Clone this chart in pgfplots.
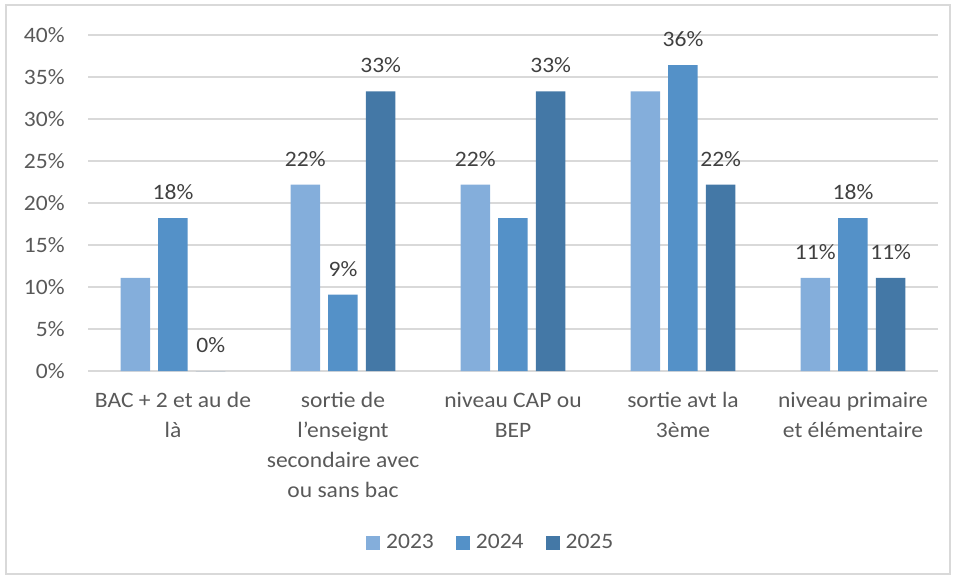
\documentclass[border=0pt]{standalone}
\usepackage{pgfplots}
\pgfplotsset{compat=1.18}
\usepackage{fontspec}
\setmainfont{Carlito}[FakeStretch=1.07]
\definecolor{c23}{RGB}{132,174,219}
\definecolor{c24}{RGB}{84,145,200}
\definecolor{c25}{RGB}{68,120,166}
\definecolor{txt}{RGB}{89,89,89}
\definecolor{lbl}{RGB}{64,64,64}
\definecolor{grd}{RGB}{217,217,217}

\begin{document}
\begin{tikzpicture}
\useasboundingbox (0,0) rectangle (477.5pt,289.5pt);
\draw[grd, line width=0.6pt] (3pt,2.5pt) rectangle (475pt,287pt);
\begin{axis}[
  at={(44pt,104pt)}, anchor=south west,
  scale only axis, width=425pt, height=168pt,
  ybar=4.1pt, bar width=14.75pt,
  xmin=-0.5, xmax=4.5, ymin=0, ymax=40,
  xtick={0,1,2,3,4},
  xticklabels={{BAC + 2 et au de\\là},{sortie de\\l’enseignt\\secondaire avec\\ou sans bac},{niveau CAP ou\\BEP},{sortie avt la\\3ème},{niveau primaire\\et élémentaire}},
  ytick={0,5,...,40},
  yticklabel={\pgfmathprintnumber{\tick}\%},
  /pgf/number format/assume math mode=true,
  axis line style={draw=none},
  major tick length=0pt,
  ymajorgrids, grid style={grd, line width=0.6pt},
  tick label style={font=\fontsize{11}{14.9}\selectfont, text=txt},
  xticklabel style={align=center, anchor=north, inner sep=0pt, yshift=-10.5pt},
  yticklabel style={anchor=east, inner sep=0pt, xshift=-11.5pt},
  point meta=explicit symbolic,
  nodes near coords,
  every node near coord/.append style={anchor=base, yshift=9.25pt, font=\fontsize{11}{13}\selectfont, text=lbl, inner sep=0pt},
  legend columns=-1,
  legend style={at={(0.475,-0.512)}, anchor=center, draw=none, fill=none,
    font=\fontsize{11}{13}\selectfont, text=txt,
    /tikz/every even column/.append style={column sep=9pt},
    /tikz/every odd column/.append style={column sep=1pt}},
  legend image code/.code={\fill[#1] (0pt,-3.5pt) rectangle (7pt,3.5pt);},
]
\addplot[fill=c23, draw=none] table[x=x, y=y, meta=lbl] {
x y lbl
0 11.1 {}
1 22.2 22\%
2 22.2 22\%
3 33.3 {}
4 11.1 11\%
};
\addplot[fill=c24, draw=none] table[x=x, y=y, meta=lbl] {
x y lbl
0 18.2 18\%
1 9.1 9\%
2 18.2 {}
3 36.4 36\%
4 18.2 18\%
};
\addplot[fill=c25, draw=none] table[x=x, y=y, meta=lbl] {
x y lbl
0 0 0\%
1 33.3 33\%
2 33.3 33\%
3 22.2 22\%
4 11.1 11\%
};
\legend{2023,2024,2025}
\end{axis}
\end{tikzpicture}
\end{document}
